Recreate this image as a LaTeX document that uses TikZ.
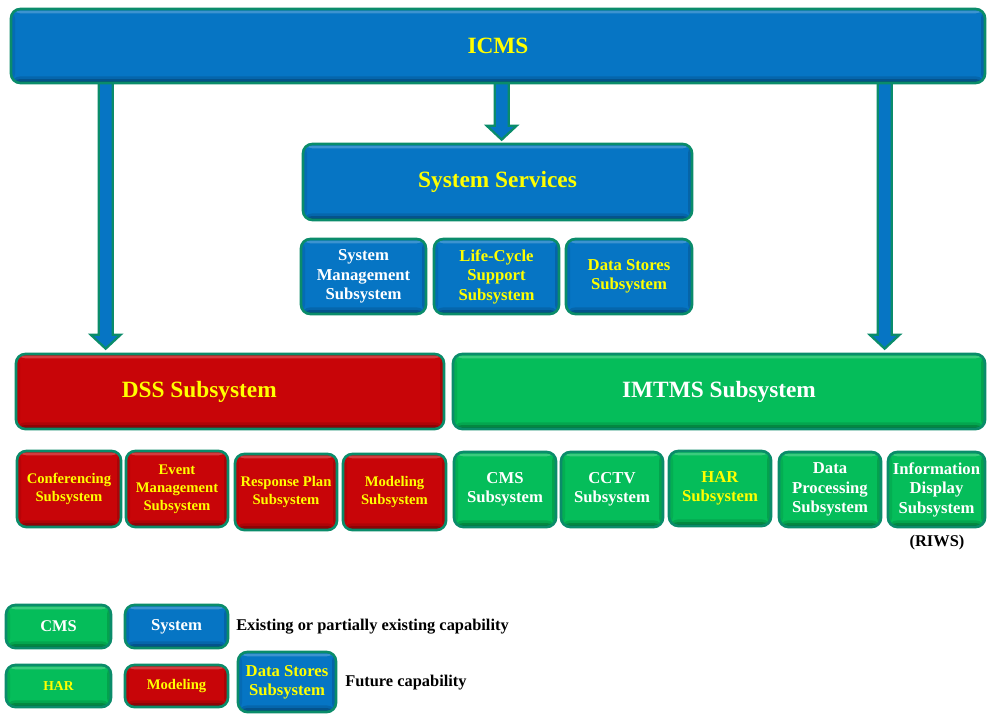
\documentclass[tikz,border=0pt]{standalone}
\usepackage{fontspec}
\setmainfont{Liberation Serif}
\usetikzlibrary{calc,backgrounds}

\definecolor{edgeteal}{HTML}{0A8C6A}
\definecolor{fillblue}{HTML}{0675C4}
\definecolor{fillred}{HTML}{C80508}
\definecolor{fillgreen}{HTML}{05BD5A}
\definecolor{txtyellow}{HTML}{FFFF00}

% font sizes (1 unit = 0.75pt)
\newcommand\ftitle{\fontsize{17.5}{21}\selectfont\bfseries}
\newcommand\fsub{\fontsize{12.5}{14.6}\selectfont\bfseries}
\newcommand\fdss{\fontsize{11}{13.5}\selectfont\bfseries}
\newcommand\fcap{\fontsize{12.3}{15}\selectfont\bfseries}

% box between two corners: name, x1, y1, x2, y2, style, text
\newcommand\bx[7]{%
  \pgfmathsetmacro\bxw{(#4-#2)*0.75}%
  \pgfmathsetmacro\bxh{(#5-#3)*0.75}%
  \node[#6, minimum width=\bxw pt, minimum height=\bxh pt] (#1)
    at ({(#2+#4)/2},{(#3+#5)/2}) {#7};}

% downward block arrow from #1 to the tip #2
\newcommand\blockarrow[2]{%
  \draw[arrowbody] ($(#1)+(-7,0)$) -- ($(#2)+(-7,-14)$) -- ($(#2)+(-15,-14)$)
    -- (#2) -- ($(#2)+(15,-14)$) -- ($(#2)+(7,-14)$) -- ($(#1)+(7,0)$) -- cycle;}

\tikzset{
  bevel/.style={path picture={
    \fill[white,opacity=.22] ([yshift=-1.2pt]path picture bounding box.north west)
      rectangle ([yshift=-3.2pt]path picture bounding box.north east);
    \fill[black,opacity=.12] (path picture bounding box.south west)
      rectangle ([yshift=5pt]path picture bounding box.south east);
    \fill[black,opacity=.18] (path picture bounding box.south west)
      rectangle ([yshift=3pt]path picture bounding box.south east);
    \fill[black,opacity=.2] (path picture bounding box.south west)
      rectangle ([yshift=1.3pt]path picture bounding box.south east);
    \fill[black,opacity=.14] ([xshift=-3pt]path picture bounding box.south east)
      rectangle (path picture bounding box.north east);
    \fill[black,opacity=.08] ([xshift=3pt]path picture bounding box.south west)
      rectangle (path picture bounding box.north west);
  }},
  box/.style={draw=edgeteal, line width=2pt, rounded corners=7pt, inner sep=0pt,
    align=center, bevel},
  bluebox/.style={box, fill=fillblue},
  redbox/.style={box, fill=fillred},
  greenbox/.style={box, fill=fillgreen},
  yt/.style={text=txtyellow},
  wt/.style={text=white},
  arrowbody/.style={fill=fillblue, draw=edgeteal, line width=1.7pt, line join=miter},
  caption/.style={font=\fcap, text=black, inner sep=0pt},
}

\begin{document}
\begin{tikzpicture}[x=0.75pt, y=-0.75pt]
\useasboundingbox (0,0) rectangle (987,714);

% top level
\bx{icms}{11}{9}{985}{83}{bluebox, yt, font=\ftitle}{ICMS}

% system services group
\bx{sys}{303}{144}{692}{220}{bluebox, yt, font=\ftitle}{System Services}
\bx{sm}{301}{239}{426}{314}{bluebox, wt, font=\fsub}{System\\Management\\Subsystem}
\bx{lc}{434}{239}{559}{314}{bluebox, yt, font=\fsub}{Life-Cycle\\Support\\Subsystem}
\bx{ds}{566}{239}{692}{314}{bluebox, yt, font=\fsub}{Data Stores\\Subsystem}

% DSS group
\bx{dss}{16}{354}{444}{429}{redbox, label={[font=\ftitle, text=txtyellow, xshift=-23pt]center:DSS Subsystem}}{}
\bx{conf}{17}{451}{121}{527}{redbox, yt, font=\fdss}{Conferencing\\Subsystem}
\bx{evt}{126}{451}{228}{527}{redbox, yt, font=\fdss}{Event\\Management\\Subsystem}
\bx{rsp}{235}{454}{337}{530}{redbox, yt, font=\fdss}{Response Plan\\Subsystem}
\bx{mdl}{343}{454}{446}{530}{redbox, yt, font=\fdss}{Modeling\\Subsystem}

% IMTMS group
\bx{imtms}{453}{354}{985}{429}{greenbox, wt, font=\ftitle}{IMTMS Subsystem}
\bx{cms}{454}{452}{556}{527}{greenbox, wt, font=\fsub}{CMS\\Subsystem}
\bx{cctv}{561}{452}{663}{527}{greenbox, wt, font=\fsub}{CCTV\\Subsystem}
\bx{har}{669}{451}{771}{526}{greenbox, yt, font=\fsub}{HAR\\Subsystem}
\bx{dp}{779}{452}{881}{527}{greenbox, wt, font=\fsub}{Data\\Processing\\Subsystem}
\bx{ids}{888}{452}{985}{527}{greenbox, wt, font=\fsub}{Information\\Display\\Subsystem}
\node[caption] (riws) at (937,543) {(RIWS)};

% connectors from ICMS
\begin{pgfonlayer}{background}
  \path ($(icms.south west)+(96,-4)$) coordinate (s1);
  \path ($(icms.south west)+(492,-4)$) coordinate (s2);
  \path ($(icms.south west)+(875,-4)$) coordinate (s3);
  \path (s1 |- dss.north) ++(0,-4) coordinate (t1);
  \path (s2 |- sys.north) ++(0,-3) coordinate (t2);
  \path (s3 |- imtms.north) ++(0,-4) coordinate (t3);
  \blockarrow{s1}{t1}
  \blockarrow{s2}{t2}
  \blockarrow{s3}{t3}
\end{pgfonlayer}

% legend
\bx{lcms}{6}{605}{111}{648}{greenbox, wt, font=\fcap}{CMS}
\bx{lsys}{125}{605}{228}{648}{bluebox, wt, font=\fsub}{System}
\node[caption, anchor=west] (lexist) at (236,627) {Existing or partially existing capability};
\bx{lhar}{6}{665}{111}{707}{greenbox, yt, font={\fontsize{10.2}{12}\selectfont\bfseries}}{HAR}
\bx{lmod}{125}{665}{228}{707}{redbox, yt, font=\fdss}{Modeling}
\bx{lds}{238}{652}{336}{712}{bluebox, yt, font=\fsub}{Data Stores\\Subsystem}
\node[caption, anchor=west] (lfut) at (345,683) {Future capability};
\end{tikzpicture}
\end{document}
